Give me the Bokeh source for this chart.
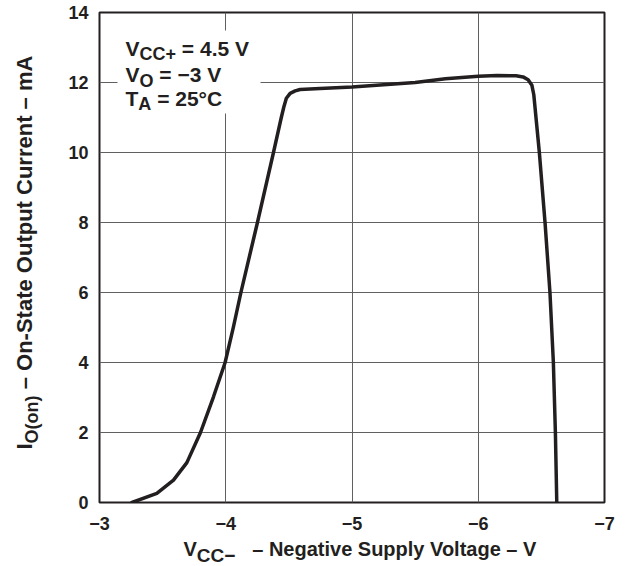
import math
from bokeh.plotting import figure
from bokeh.layouts import row, column
from bokeh.models import Range1d, FixedTicker, CustomJSTickFormatter, Label, BoxAnnotation
from bokeh.embed import file_html
from bokeh.resources import INLINE

# ---------------- data ----------------
vcc_neg = [-3.257, -3.454, -3.586, -3.692, -3.800, -3.903, -3.995, -4.061, -4.120,
           -4.251, -4.378, -4.440, -4.460, -4.480, -4.510, -4.550, -4.589, -4.747,
           -5.000, -5.500, -5.740, -6.000, -6.150, -6.300, -6.355, -6.395, -6.425,
           -6.440, -6.484, -6.529, -6.568, -6.595, -6.611, -6.622]
i_on = [0.00, 0.26, 0.64, 1.14, 2.00, 3.02, 4.00, 5.02, 6.00,
        8.00, 10.00, 11.00, 11.30, 11.55, 11.69, 11.76, 11.80, 11.83,
        11.87, 12.00, 12.11, 12.18, 12.20, 12.19, 12.16, 12.08, 11.92,
        11.65, 10.00, 8.00, 6.00, 4.00, 2.00, 0.00]
x_ticks = [-3, -4, -5, -6, -7]
y_ticks = [0, 2, 4, 6, 8, 10, 12, 14]

INK = "#231f20"
FONT = "Liberation Sans"

# Arial/Liberation Sans Bold advance widths (per 1000 em)
W = {' ': 278, '(': 333, ')': 333, '+': 584, '-': 333, '.': 278, '=': 584, '°': 400,
     '–': 556, '−': 584, 'A': 722, 'C': 722, 'I': 278, 'N': 722, 'O': 778, 'S': 667,
     'T': 611, 'V': 667, 'a': 556, 'e': 556, 'g': 611, 'i': 278, 'l': 278, 'm': 889,
     'n': 611, 'o': 611, 'p': 611, 'r': 389, 't': 333, 'u': 611, 'v': 556, 'y': 556}


def tw(s, size):
    return sum(W.get(c, 556) for c in s) * size / 1000.0


PAGE_W, PAGE_H = 630, 566
LEFT_W = 48          # strip holding the y title
SPLIT_Y = 537        # top of the strip holding the x title
FL, FR, FT, FB = 99, 604, 12, 502   # frame edges, page pixels


def dx(px):
    return -3 - (px - FL) / ((FR - FL) / 4.0)


def dy(py):
    return (FB - py) / ((FB - FT) / 14.0)


p = figure(frame_width=FR - FL, frame_height=FB - FT,
           min_border_left=FL - LEFT_W, min_border_right=PAGE_W - FR,
           min_border_top=FT, min_border_bottom=SPLIT_Y - FB,
           x_range=Range1d(-3, -7), y_range=Range1d(0, 14),
           output_backend="svg", toolbar_location=None)
p.background_fill_color = "white"
p.border_fill_color = "white"
p.outline_line_color = INK
p.outline_line_width = 2

for ax in (p.xaxis[0], p.yaxis[0]):
    ax.axis_line_color = None
    ax.major_tick_line_color = None
    ax.minor_tick_line_color = None
    ax.major_tick_out = 0
    ax.major_tick_in = 0
    ax.major_label_text_font = FONT
    ax.major_label_text_font_style = "bold"
    ax.major_label_text_font_size = "18px"
    ax.major_label_text_color = INK

p.xaxis[0].ticker = FixedTicker(ticks=x_ticks)
p.yaxis[0].ticker = FixedTicker(ticks=y_ticks)
p.xaxis[0].formatter = CustomJSTickFormatter(
    code="return tick < 0 ? '\u2212' + Math.abs(tick) : String(tick);")
p.xaxis[0].major_label_standoff = 14
p.yaxis[0].major_label_standoff = 11

p.xgrid[0].ticker = FixedTicker(ticks=x_ticks)
p.ygrid[0].ticker = FixedTicker(ticks=y_ticks)
for g in (p.xgrid[0], p.ygrid[0]):
    g.grid_line_color = "#606060"
    g.grid_line_width = 1

p.line(vcc_neg, i_on, line_color=INK, line_width=3.5, line_join="round", line_cap="round")

# white box behind conditions text
p.add_layout(BoxAnnotation(left=dx(117), right=dx(260), top=dy(30), bottom=dy(113),
                           fill_color="white", fill_alpha=1.0, line_alpha=0, level="annotation"))


def make_put(fig, fx, fy):
    def put(text, px, py, size, angle=0.0):
        fig.add_layout(Label(x=fx(px), y=fy(py), text=text, angle=angle,
                             text_font=FONT, text_font_style="bold",
                             text_font_size=f"{size}px", text_color=INK,
                             text_align="left", text_baseline="middle",
                             level="overlay"))
    return put


def rich(put, parts, px, py, main, sub, drop, angle=0.0):
    """parts placed one after another; py is the centre line of the main text."""
    pos = 0.0
    for t, is_sub in parts:
        s = sub if is_sub else main
        lead = len(t) - len(t.lstrip(" "))
        pos += tw(" " * lead, s)
        body = t.strip(" ")
        off = drop if is_sub else 0
        if angle == 0.0:
            put(body, px + pos, py + off, s)
        else:
            put(body, px + off, py - pos, s, angle=angle)
        pos += tw(body, s) + tw(" " * (len(t) - lead - len(body)), s)


put_main = make_put(p, dx, dy)
# conditions
rich(put_main, [("V", False), ("CC+", True), (" = 4.5 V", False)], 125, 47.5, 21, 18, 6)
rich(put_main, [("V", False), ("O", True), (" = \u22123 V", False)], 125, 74.2, 21, 18, 6)
rich(put_main, [("T", False), ("A", True), (" = 25\u00b0C", False)], 125, 97.5, 21, 18, 6)


def strip(w, h, x0, y0):
    f = figure(frame_width=w, frame_height=h, min_border=0,
               x_range=Range1d(x0, x0 + w), y_range=Range1d(y0 + h, y0),
               x_axis_location=None, y_axis_location=None,
               output_backend="svg", toolbar_location=None)
    f.xgrid.visible = False
    f.ygrid.visible = False
    f.outline_line_color = None
    f.background_fill_color = "white"
    f.border_fill_color = "white"
    return f


# y axis title (rotated, reading bottom to top)
left = strip(LEFT_W, SPLIT_Y, 0, 0)
put_left = make_put(left, lambda v: v, lambda v: v)
rich(put_left, [("I", False), ("O(on)", True), (" \u2013 On-State Output Current \u2013 mA", False)],
     24, 437, 22, 18, 7, angle=math.pi / 2)

# x axis title
bottom = strip(PAGE_W, PAGE_H - SPLIT_Y, 0, SPLIT_Y)
put_bot = make_put(bottom, lambda v: v, lambda v: v)
rich(put_bot, [("V", False), ("CC\u2212", True)], 183, 548.5, 20, 19, 6.5)
rich(put_bot, [("\u2013 Negative Supply Voltage \u2013 V", False)], 251.7, 548.5, 20, 19, 6.5)

layout = column(row(left, p), bottom)
open("out.html", "w").write(file_html(layout, INLINE))
